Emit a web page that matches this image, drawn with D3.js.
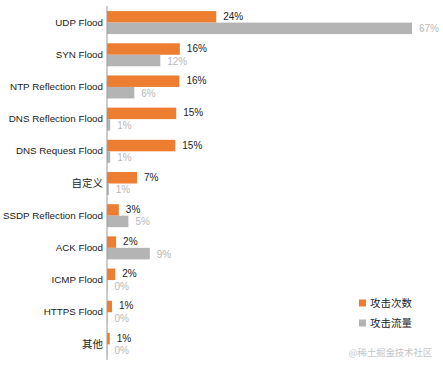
<!DOCTYPE html>
<html><head><meta charset="utf-8">
<script src="https://cdn.jsdelivr.net/npm/d3@7"></script>
<style>body{margin:0;background:#fff}svg{display:block}</style>
</head><body>
<script>
const categories = ["UDP Flood","SYN Flood","NTP Reflection Flood","DNS Reflection Flood","DNS Request Flood","自定义","SSDP Reflection Flood","ACK Flood","ICMP Flood","HTTPS Flood","其他"];
const attackCount = [24, 16, 15.9, 15.2, 15, 6.6, 2.6, 2, 1.8, 1.1, 0.6];
const attackTraffic = [67, 11.7, 6, 0.7, 0.7, 0.4, 4.7, 9.4, 0.1, 0.1, 0.1];
const countLabels = ["24%","16%","16%","15%","15%","7%","3%","2%","2%","1%","1%"];
const trafficLabels = ["67%","12%","6%","1%","1%","1%","5%","9%","0%","0%","0%"];
const seriesNames = ["攻击次数","攻击流量"];
const colors = ["#ED7D31","#B4B4B4"];

const W = 443, H = 369;
const svg = d3.select("body").append("svg").attr("width", W).attr("height", H);
const font = "'Liberation Sans', Arial, 'Noto Sans CJK SC', sans-serif";

const x = d3.scaleLinear().domain([0, 67]).range([107, 412]);
const y = d3.scaleBand().domain(categories).range([6.5, 360.5]).paddingInner(0).paddingOuter(0);
const bw = y.bandwidth();
const barH = bw * 0.357;
const off = (bw - 2 * barH) / 2;

const g = svg.append("g");
categories.forEach((c, i) => {
  const y0 = y(c) + off;
  g.append("rect").attr("x", x(0)).attr("y", y0).attr("width", x(attackCount[i]) - x(0)).attr("height", barH).attr("fill", colors[0]);
  g.append("rect").attr("x", x(0)).attr("y", y0 + barH).attr("width", Math.max(0, x(attackTraffic[i]) - x(0))).attr("height", barH).attr("fill", colors[1]);
  g.append("text").attr("x", x(attackCount[i]) + 7).attr("y", y0 + barH / 2 - 0.5).attr("dy", "0.35em")
    .attr("font-family", font).attr("font-size", "10px").attr("fill", "#222").text(countLabels[i]);
  g.append("text").attr("x", x(attackTraffic[i]) + 7).attr("y", y0 + barH * 1.5 + 0.5).attr("dy", "0.35em")
    .attr("font-family", font).attr("font-size", "10px").attr("fill", "#b8b8b8").text(trafficLabels[i]);
});

const yAxis = d3.axisLeft(y).tickSize(0).tickPadding(4);
const ax = svg.append("g").attr("transform", `translate(${x(0)},0)`).call(yAxis);
ax.select(".domain").attr("stroke", "#9a9a9a").attr("d", `M0.5,6V360`).attr("transform", "translate(-0.5,0)");
ax.selectAll("text").attr("font-family", font).attr("font-size", d => /[\u4e00-\u9fff]/.test(d) ? "10.5px" : "9.8px").attr("fill", "#222");

const leg = svg.append("g");
seriesNames.forEach((n, i) => {
  const cy = 303 + i * 20;
  leg.append("rect").attr("x", 359).attr("y", cy - 3.5).attr("width", 7).attr("height", 7).attr("fill", colors[i]);
  leg.append("text").attr("x", 370).attr("y", cy).attr("dy", "0.35em").attr("font-family", "'Noto Sans CJK SC', sans-serif")
    .attr("font-size", "10.5px").attr("fill", "#222").text(n);
});

svg.append("text").attr("x", 432).attr("y", 353).attr("dy", "0.35em").attr("text-anchor", "end")
  .attr("font-family", "'Noto Sans CJK SC', sans-serif").attr("font-size", "9.3px").attr("fill", "#c4c4c4").text("@稀土掘金技术社区");
</script>
</body></html>
